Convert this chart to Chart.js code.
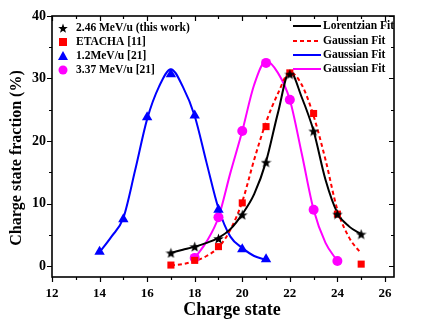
<!DOCTYPE html>
<html>
<head>
<meta charset="utf-8">
<script src="https://cdn.jsdelivr.net/npm/chart.js@4.4.1/dist/chart.umd.min.js"></script>
<style>
  html, body { margin: 0; padding: 0; background: #fff; }
  #wrap { width: 427px; height: 327px; }
</style>
</head>
<body>
<div id="wrap"><canvas id="myChart"></canvas></div>
<script>
// measured points
var workStates = [17, 18, 19, 20, 21, 22, 23, 24, 25];
var thisWork = [2.1, 3.1, 4.4, 8.2, 16.6, 30.7, 21.6, 8.3, 5.1];
var etacha = [0.15, 0.9, 3.1, 10.1, 22.3, 30.9, 24.4, 8.3, 0.3];
var lowStates = [14, 15, 16, 17, 18, 19, 20, 21];
var lowEnergy = [2.3, 7.5, 23.8, 30.7, 24.1, 9.0, 2.7, 1.1];
var highStates = [18, 19, 20, 21, 22, 23, 24];
var highEnergy = [1.3, 7.8, 21.6, 32.5, 26.6, 9.0, 0.8];

// fit curves
var workFitX = [17, 17.5, 18, 18.5, 19, 19.5, 20, 20.5, 21, 21.5, 22, 22.5, 23, 23.5, 24, 24.5, 25];
var lorentzFit = [2.1, 2.6, 3.1, 3.7, 4.5, 5.9, 8.3, 11.5, 16.7, 24.5, 31.2, 27.0, 21.6, 13.8, 8.5, 6.3, 5.1];
var etachaFit = [0.1, 0.3, 0.8, 1.6, 3.0, 5.8, 10.3, 17.0, 23.0, 27.6, 31.0, 29.0, 24.0, 17.0, 9.0, 4.5, 2.0];
var lowFitX = [14, 14.5, 15, 15.5, 16, 16.5, 17, 17.5, 18, 18.5, 19, 19.5, 20, 20.5, 21];
var lowFit = [2.2, 4.7, 7.7, 15.4, 23.5, 28.7, 31.5, 28.7, 24.0, 16.5, 9.2, 4.7, 2.9, 1.6, 1.0];
var highFitX = [18, 18.5, 19, 19.5, 20, 20.5, 21, 21.5, 22, 22.5, 23, 23.5, 24];
var highFit = [1.3, 3.9, 7.8, 14.9, 21.6, 29.0, 32.8, 30.9, 26.6, 18.0, 9.0, 3.7, 0.8];

var xTicks = [12, 14, 16, 18, 20, 22, 24, 26];
var xMinor = [13, 15, 17, 19, 21, 23, 25];
var yTicks = [0, 10, 20, 30, 40];
var yMinor = [5, 15, 25, 35];

var legendLeft = ["2.46 MeV/u (this work)", "ETACHA [11]", "1.2MeV/u [21]", "3.37 MeV/u [21]"];
var legendRight = ["Lorentzian Fit", "Gaussian Fit", "Gaussian Fit", "Gaussian Fit"];
var xTitle = "Charge state";
var yTitle = "Charge state fraction (%)";

const SERIF = "'Liberation Serif', 'Times New Roman', serif";

const pairs = (xs, ys) => xs.map((x, i) => ({ x: x, y: ys[i] }));

function makeStar(size, color) {
  var c = document.createElement("canvas");
  c.width = size; c.height = size;
  var g = c.getContext("2d");
  var r = size / 2, ri = r * 0.42;
  g.beginPath();
  for (var i = 0; i < 10; i++) {
    var rad = i % 2 === 0 ? r : ri;
    var a = -Math.PI / 2 + i * Math.PI / 5;
    var px = r + rad * Math.cos(a), py = r + 0.6 + rad * Math.sin(a);
    if (i === 0) g.moveTo(px, py); else g.lineTo(px, py);
  }
  g.closePath();
  g.fillStyle = color;
  g.fill();
  return c;
}
var starImg = makeStar(11, "#000");
var legendStar = makeStar(10, "#000");

const frame = {
  id: "frame",
  afterDraw(chart) {
    const ctx = chart.ctx, a = chart.chartArea;
    const xs = chart.scales.x, ys = chart.scales.y;
    ctx.save();
    ctx.strokeStyle = "#000";
    ctx.lineWidth = 1.6;
    ctx.strokeRect(a.left, a.top, a.right - a.left, a.bottom - a.top);
    ctx.lineWidth = 1.2;
    ctx.beginPath();
    xTicks.concat(xMinor).forEach(v => {
      const len = xMinor.includes(v) ? 3 : 5;
      const px = Math.round(xs.getPixelForValue(v)) + 0.5;
      ctx.moveTo(px, a.bottom); ctx.lineTo(px, a.bottom + len);
      ctx.moveTo(px, a.top); ctx.lineTo(px, a.top + len);
    });
    yTicks.concat(yMinor).forEach(v => {
      const len = yMinor.includes(v) ? 3 : 5;
      const py = Math.round(ys.getPixelForValue(v)) + 0.5;
      ctx.moveTo(a.left, py); ctx.lineTo(a.left - len, py);
      ctx.moveTo(a.right, py); ctx.lineTo(a.right - len, py);
    });
    ctx.stroke();

    // axis titles
    ctx.fillStyle = "#000";
    ctx.textAlign = "center";
    ctx.textBaseline = "middle";
    ctx.font = "bold 18px " + SERIF;
    ctx.fillText(xTitle, 232, 310);
    ctx.save();
    ctx.translate(17, 158);
    ctx.rotate(-Math.PI / 2);
    ctx.font = "bold 16px " + SERIF;
    ctx.fillText(yTitle, 0, 0);
    ctx.restore();

    // legend
    ctx.textAlign = "left";
    ctx.font = "bold 11.5px " + SERIF;
    var rowsL = [28, 42, 56, 70];
    ctx.drawImage(legendStar, 63 - 5, rowsL[0] - 5);
    ctx.fillStyle = "#ff0000";
    ctx.fillRect(59, rowsL[1] - 4, 8, 8);
    ctx.fillStyle = "#0000ff";
    ctx.beginPath();
    ctx.moveTo(63, rowsL[2] - 5); ctx.lineTo(68, rowsL[2] + 4); ctx.lineTo(58, rowsL[2] + 4);
    ctx.closePath(); ctx.fill();
    ctx.fillStyle = "#ff00ff";
    ctx.beginPath(); ctx.arc(63, rowsL[3], 4.5, 0, Math.PI * 2); ctx.fill();
    ctx.fillStyle = "#000";
    legendLeft.forEach((t, i) => ctx.fillText(t, 76, rowsL[i]));

    var rowsR = [26, 41, 55, 69];
    var cols = ["#000", "#ff0000", "#0000ff", "#ff00ff"];
    ctx.lineWidth = 2;
    cols.forEach((c, i) => {
      ctx.strokeStyle = c;
      ctx.setLineDash(i === 1 ? [4, 3] : []);
      ctx.beginPath(); ctx.moveTo(293, rowsR[i]); ctx.lineTo(321, rowsR[i]); ctx.stroke();
    });
    ctx.setLineDash([]);
    legendRight.forEach((t, i) => ctx.fillText(t, 323, rowsR[i]));
    ctx.restore();
  }
};

const fitLine = (xs, ys, color, dash) => ({
  data: pairs(xs, ys),
  showLine: true,
  borderColor: color,
  borderWidth: 2,
  borderDash: dash || [],
  pointRadius: 0,
  cubicInterpolationMode: "monotone",
  order: 2
});

const marks = (xs, ys, color, style, r) => ({
  data: pairs(xs, ys),
  showLine: false,
  pointStyle: style,
  pointRadius: r,
  backgroundColor: color,
  borderColor: color,
  borderWidth: 0,
  order: 1
});

const ctx = document.getElementById("myChart");

new Chart(ctx, {
  type: "scatter",
  data: {
    datasets: [
      fitLine(workFitX, lorentzFit, "#000000"),
      fitLine(workFitX, etachaFit, "#ff0000", [4, 3]),
      fitLine(lowFitX, lowFit, "#0000ff"),
      fitLine(highFitX, highFit, "#ff00ff"),
      marks(workStates, thisWork, "#000000", starImg, 6),
      marks(workStates, etacha, "#ff0000", "rect", 5),
      marks(lowStates, lowEnergy, "#0000ff", "triangle", 6),
      marks(highStates, highEnergy, "#ff00ff", "circle", 5)
    ]
  },
  options: {
    responsive: true,
    maintainAspectRatio: false,
    animation: false,
    layout: { padding: { top: 16, right: 33, left: 0, bottom: 0 } },
    plugins: { legend: { display: false }, tooltip: { enabled: false } },
    scales: {
      x: {
        type: "linear",
        min: 12,
        max: 26.38,
        afterBuildTicks: s => { s.ticks = xTicks.map(v => ({ value: v })); },
        afterFit: s => { s.height = 50; },
        grid: { display: false, drawTicks: false },
        border: { display: false },
        ticks: { color: "#000", padding: 9, font: { family: SERIF, size: 13, weight: "bold" } }
      },
      y: {
        min: -1.76,
        max: 40,
        afterBuildTicks: s => { s.ticks = yTicks.map(v => ({ value: v })); },
        afterFit: s => { s.width = 52; },
        grid: { display: false, drawTicks: false },
        border: { display: false },
        ticks: { color: "#000", padding: 6, font: { family: SERIF, size: 14, weight: "bold" } }
      }
    }
  },
  plugins: [frame]
});
</script>
</body>
</html>
